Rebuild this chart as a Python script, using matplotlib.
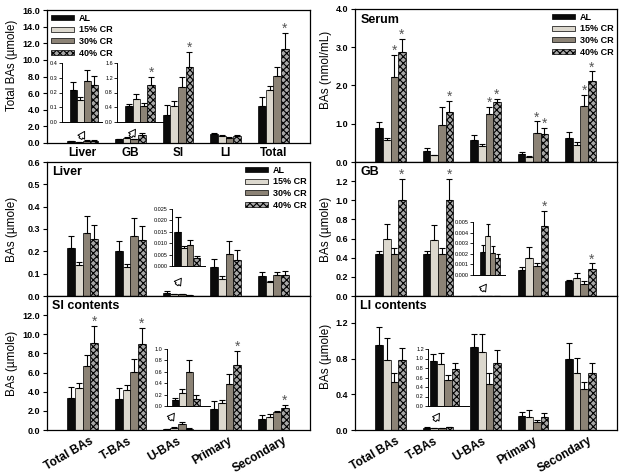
import numpy as np
import matplotlib
matplotlib.use("Agg")
import matplotlib.pyplot as plt
from matplotlib.patches import FancyArrowPatch
from matplotlib.ticker import FormatStrFormatter
from matplotlib.transforms import ScaledTranslation

plt.rcParams['font.family'] = ['Liberation Sans', 'DejaVu Sans']
plt.rcParams['font.weight'] = 'bold'
plt.rcParams['hatch.linewidth'] = 0.8
plt.rcParams['axes.linewidth'] = 0.9

W, H = 624, 476

# ---- data ----
diets = ['AL', '15% CR', '30% CR', '40% CR']
organs = ['Liver', 'GB', 'SI', 'LI', 'Total']
ba_types = ['Total BAs', 'T-BAs', 'U-BAs', 'Primary', 'Secondary']

# total BAs per compartment (umole), rows = diets
total_mean = [[0.22, 0.44, 3.4, 1.05, 4.4],
              [0.15, 0.62, 4.5, 0.80, 6.4],
              [0.28, 0.44, 6.7, 0.60, 8.1],
              [0.25, 1.01, 9.2, 0.85, 11.3]]
total_err = [[0.05, 0.06, 1.2, 0.15, 1.1],
             [0.02, 0.15, 0.6, 0.12, 0.5],
             [0.075, 0.08, 1.2, 0.08, 1.1],
             [0.06, 0.21, 1.8, 0.10, 1.9]]
total_stars = [(3, 2), (3, 4)]
total_liver_inset = [0.22, 0.15, 0.28, 0.25]
total_liver_inset_err = [0.05, 0.02, 0.075, 0.06]
total_gb_inset = [0.44, 0.62, 0.44, 1.01]
total_gb_inset_err = [0.06, 0.15, 0.08, 0.21]

# serum (nmol/mL)
serum_mean = [[0.88, 0.30, 0.57, 0.21, 0.64],
              [0.58, 0.17, 0.41, 0.13, 0.45],
              [2.21, 0.98, 1.25, 0.75, 1.46],
              [2.87, 1.31, 1.56, 0.72, 2.13]]
serum_err = [[0.17, 0.06, 0.14, 0.05, 0.14],
             [0.06, 0.02, 0.05, 0.02, 0.06],
             [0.59, 0.46, 0.19, 0.31, 0.30],
             [0.35, 0.28, 0.10, 0.17, 0.24]]
serum_stars = [(2, 0), (3, 0), (3, 1), (2, 2), (3, 2), (2, 3), (3, 3), (2, 4), (3, 4)]

# liver (umole)
liver_mean = [[0.216, 0.200, 0.015, 0.128, 0.090],
              [0.139, 0.128, 0.008, 0.075, 0.064],
              [0.280, 0.270, 0.009, 0.187, 0.094],
              [0.255, 0.250, 0.0035, 0.161, 0.094]]
liver_err = [[0.054, 0.046, 0.007, 0.038, 0.016],
             [0.015, 0.017, 0.001, 0.015, 0.005],
             [0.078, 0.078, 0.002, 0.059, 0.015],
             [0.063, 0.063, 0.001, 0.045, 0.018]]
liver_inset = [0.0148, 0.0080, 0.0092, 0.0035]
liver_inset_err = [0.0067, 0.0008, 0.0023, 0.0010]

# gallbladder (umole)
gb_mean = [[0.435, 0.435, 0.0022, 0.27, 0.16],
           [0.595, 0.590, 0.0037, 0.40, 0.19],
           [0.440, 0.440, 0.0021, 0.31, 0.13],
           [1.000, 1.000, 0.0016, 0.73, 0.28]]
gb_err = [[0.04, 0.035, 0.0006, 0.035, 0.012],
          [0.155, 0.155, 0.0011, 0.115, 0.055],
          [0.06, 0.06, 0.0006, 0.04, 0.03],
          [0.22, 0.22, 0.0004, 0.16, 0.06]]
gb_stars = [(3, 0), (3, 1), (3, 3), (3, 4)]
gb_inset = [0.0022, 0.0037, 0.0021, 0.0016]
gb_inset_err = [0.0006, 0.0011, 0.0006, 0.0004]

# SI contents (umole)
si_mean = [[3.3, 3.2, 0.10, 2.15, 1.18],
           [4.35, 4.2, 0.22, 2.85, 1.40],
           [6.7, 6.1, 0.60, 4.8, 1.90],
           [9.1, 9.0, 0.12, 6.8, 2.33]]
si_err = [[1.2, 1.2, 0.03, 0.85, 0.40],
          [0.6, 0.45, 0.08, 0.30, 0.24],
          [1.1, 1.3, 0.20, 1.10, 0.10],
          [1.8, 1.7, 0.07, 1.50, 0.27]]
si_stars = [(3, 0), (3, 1), (3, 3), (3, 4)]
si_inset = [0.105, 0.22, 0.60, 0.12]
si_inset_err = [0.03, 0.08, 0.20, 0.07]

# LI contents (umole)
li_mean = [[0.95, 0.025, 0.93, 0.16, 0.80],
           [0.78, 0.020, 0.87, 0.15, 0.64],
           [0.54, 0.020, 0.52, 0.09, 0.46],
           [0.78, 0.030, 0.75, 0.15, 0.64]]
li_err = [[0.20, 0.005, 0.14, 0.04, 0.17],
          [0.25, 0.004, 0.21, 0.07, 0.17],
          [0.10, 0.004, 0.12, 0.02, 0.08],
          [0.14, 0.005, 0.14, 0.04, 0.11]]
li_inset = [0.945, 0.88, 0.54, 0.77]
li_inset_err = [0.145, 0.23, 0.11, 0.13]

colors = ['#0b0b0b', '#dcd8ce', '#8c8376', '#a8a8a8']
hatches = [None, None, None, 'xxxxx']
BW = 0.16


def rect(x0, y0, x1, y1):
    return [x0 / W, 1 - y1 / H, (x1 - x0) / W, (y1 - y0) / H]


def draw_bars(ax, x, means, errs, stars=(), capsize=2.5, star_size=10):
    x = np.atleast_1d(x)
    for i in range(4):
        xi = x + (i - 1.5) * BW
        m = np.atleast_1d(means[i])
        e = np.atleast_1d(errs[i])
        ax.bar(xi, m, BW, color=colors[i], edgecolor='black', linewidth=0.5,
               hatch=hatches[i], label=diets[i], zorder=2)
        ax.errorbar(xi, m, yerr=[np.zeros(len(xi)), e], fmt='none', ecolor='black',
                    elinewidth=0.8, capsize=capsize, capthick=0.8, zorder=3)
    for d, g in stars:
        xs = x[g] + (d - 1.5) * BW
        top = np.atleast_1d(means[d])[g] + np.atleast_1d(errs[d])[g]
        ax.annotate('*', (xs, top), xytext=(0, 0), textcoords='offset points',
                    ha='center', va='baseline', fontsize=star_size, color='#555555',
                    fontweight='normal', annotation_clip=False)


def style_main(ax, ylim, yticks, fmt='%.1f'):
    ax.set_xlim(-0.75, 4.77)
    ax.set_ylim(*ylim)
    ax.set_yticks(yticks)
    ax.yaxis.set_major_formatter(FormatStrFormatter(fmt))
    ax.tick_params(axis='y', direction='out', length=3, width=0.8, labelsize=6.5, pad=2)
    ax.tick_params(axis='x', length=0)


def style_inset(ax, xlim, ylim, yticks, fmt):
    ax.set_xlim(*xlim)
    ax.set_ylim(*ylim)
    ax.set_yticks(yticks)
    ax.yaxis.set_major_formatter(FormatStrFormatter(fmt))
    ax.set_xticks([])
    ax.spines['top'].set_visible(False)
    ax.spines['right'].set_visible(False)
    ax.spines['left'].set_linewidth(0.7)
    ax.spines['bottom'].set_linewidth(0.7)
    ax.patch.set_alpha(0)
    ax.tick_params(axis='y', direction='out', length=2, width=0.6, labelsize=4, pad=1)
    for t in ax.get_yticklabels():
        t.set_fontweight('normal')


def add_legend(ax, loc, anchor):
    ax.legend(loc=loc, bbox_to_anchor=anchor, frameon=False, fontsize=6.5,
              handlelength=2.6, handleheight=0.45, labelspacing=0.3,
              handletextpad=0.5, borderaxespad=0.2, borderpad=0.2)


def arrow(fig, p0, p1):
    a = FancyArrowPatch((p0[0] / W, 1 - p0[1] / H), (p1[0] / W, 1 - p1[1] / H),
                        transform=fig.transFigure,
                        arrowstyle='simple,head_length=0.6,head_width=0.7,tail_width=0.3',
                        mutation_scale=8, fc='white', ec='black', lw=0.7)
    fig.add_artist(a)


def title(ax, text):
    ax.text(0.02, 0.97, text, transform=ax.transAxes, ha='left', va='top',
            fontsize=9, fontweight='bold')


fig = plt.figure(figsize=(W / 100, H / 100), dpi=100)
x = np.arange(5)

# ---- Total BAs per compartment ----
ax = fig.add_axes(rect(47, 10, 310, 143))
draw_bars(ax, x, total_mean, total_err, total_stars)
style_main(ax, (0, 16), np.arange(0, 16.1, 2))
ax.set_xticks(x)
ax.set_xticklabels(organs, fontsize=8.5)
ax.tick_params(axis='x', pad=3)
ax.set_ylabel('Total BAs (\u00b5mole)', fontsize=8.3)
ax.yaxis.set_label_coords(-0.112, 0.58)
add_legend(ax, 'upper left', (0.0, 1.0))

ins = fig.add_axes(rect(62, 63, 102, 122))
draw_bars(ins, 0, total_liver_inset, total_liver_inset_err, capsize=2)
style_inset(ins, (-0.5, 0.42), (0, 0.4), np.arange(0, 0.41, 0.1), '%.1f')
ins = fig.add_axes(rect(117, 63, 163, 122))
draw_bars(ins, 0, total_gb_inset, total_gb_inset_err, [(3, 0)], capsize=2)
style_inset(ins, (-0.5, 0.5), (0, 1.6), np.arange(0, 1.61, 0.4), '%.1f')
arrow(fig, (79, 141), (86, 129))
arrow(fig, (129, 139), (137, 127))

# ---- Serum ----
ax = fig.add_axes(rect(355, 9, 617, 162))
draw_bars(ax, x, serum_mean, serum_err, serum_stars)
style_main(ax, (0, 4), np.arange(0, 4.1, 1))
ax.set_xticks([])
ax.set_ylabel('BAs (nmol/mL)', fontsize=8.5)
ax.yaxis.set_label_coords(-0.088, 0.6)
title(ax, 'Serum')
add_legend(ax, 'upper right', (1.0, 1.0))

# ---- Liver ----
ax = fig.add_axes(rect(47, 162, 310, 296))
draw_bars(ax, x, liver_mean, liver_err)
style_main(ax, (0, 0.6), np.arange(0, 0.61, 0.1))
ax.set_xticks([])
ax.set_ylabel('BAs (\u00b5mole)', fontsize=8.5)
ax.yaxis.set_label_coords(-0.112, 0.5)
title(ax, 'Liver')
add_legend(ax, 'upper right', (1.0, 1.0))

ins = fig.add_axes(rect(172, 209, 205, 266))
draw_bars(ins, 0, liver_inset, liver_inset_err, capsize=2)
style_inset(ins, (-0.38, 0.45), (0, 0.025), np.arange(0, 0.0251, 0.005), '%.3f')
arrow(fig, (175, 287), (183, 276))

# ---- GB ----
ax = fig.add_axes(rect(355, 162, 617, 296))
draw_bars(ax, x, gb_mean, gb_err, gb_stars)
style_main(ax, (0, 1.4), np.arange(0, 1.21, 0.2))
ax.set_xticks([])
ax.set_ylabel('BAs (\u00b5mole)', fontsize=8.5)
ax.yaxis.set_label_coords(-0.088, 0.5)
title(ax, 'GB')

ins = fig.add_axes(rect(473, 222, 505, 275))
draw_bars(ins, 0, gb_inset, gb_inset_err, capsize=1.5)
style_inset(ins, (-0.55, 0.48), (0, 0.005), np.arange(0, 0.00501, 0.001), '%.3f')
arrow(fig, (480, 293), (488, 282))

# ---- SI contents ----
ax = fig.add_axes(rect(47, 296, 310, 430))
draw_bars(ax, x, si_mean, si_err, si_stars)
style_main(ax, (0, 14), np.arange(0, 12.1, 2))
ax.set_xticks(x)
ax.set_xticklabels(ba_types, fontsize=8.5, rotation=30, ha='center')
ax.set_ylabel('BAs (\u00b5mole)', fontsize=8.5)
ax.yaxis.set_label_coords(-0.112, 0.5)
title(ax, 'SI contents')
for lbl in ax.get_xticklabels():
    lbl.set_transform(lbl.get_transform() + ScaledTranslation(-0.14, 0, fig.dpi_scale_trans))

ins = fig.add_axes(rect(167, 349, 210, 406))
draw_bars(ins, 0, si_inset, si_inset_err, capsize=2)
style_inset(ins, (-0.43, 0.55), (0, 1.0), np.arange(0, 1.01, 0.2), '%.1f')
arrow(fig, (168, 422), (176, 411))

# ---- LI contents ----
ax = fig.add_axes(rect(355, 296, 617, 430))
draw_bars(ax, x, li_mean, li_err)
style_main(ax, (0, 1.5), np.arange(0, 1.21, 0.4))
ax.set_xticks(x)
ax.set_xticklabels(ba_types, fontsize=8.5, rotation=30, ha='center')
ax.set_ylabel('BAs (\u00b5mole)', fontsize=8.5)
ax.yaxis.set_label_coords(-0.088, 0.55)
title(ax, 'LI contents')
for lbl in ax.get_xticklabels():
    lbl.set_transform(lbl.get_transform() + ScaledTranslation(-0.16, 0, fig.dpi_scale_trans))

ins = fig.add_axes(rect(428, 349, 469, 406))
draw_bars(ins, 0, li_inset, li_inset_err, capsize=2)
style_inset(ins, (-0.36, 0.54), (0, 1.2), np.arange(0, 1.21, 0.2), '%.1f')
arrow(fig, (433, 423), (441, 411))

fig.savefig('out.png', dpi=100)
